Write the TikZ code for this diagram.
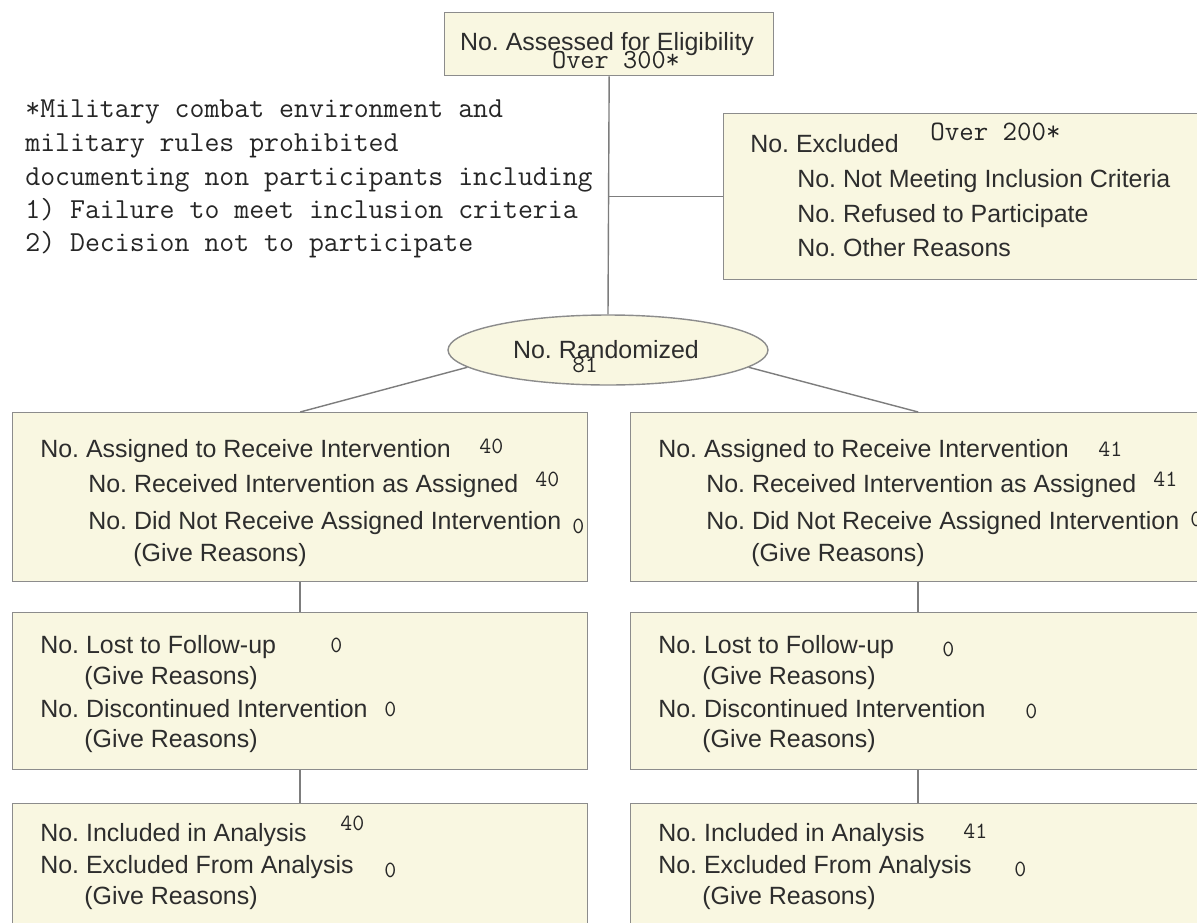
\documentclass[tikz,border=0pt]{standalone}
\usepackage{fontspec}
\setmainfont{Liberation Sans}
\setmonofont{Latin Modern Mono}
\usetikzlibrary{shapes.geometric}
\definecolor{cream}{RGB}{249,247,225}
\definecolor{edgegray}{RGB}{140,140,140}
\definecolor{wiregray}{RGB}{125,125,125}
\definecolor{ink}{RGB}{45,45,45}
\frenchspacing
\begin{document}
\begin{tikzpicture}[x=0.02cm,y=-0.02cm,
  box/.style={draw=edgegray, fill=cream, line width=0.8pt, rectangle, anchor=north west, inner sep=0pt},
  oval/.style={draw=edgegray, fill=cream, line width=0.8pt, ellipse, inner sep=0pt, minimum width=6.4cm, minimum height=1.4cm},
  lab/.style={anchor=base west, inner sep=0pt, text=ink, font=\fontsize{14.2}{17}\selectfont},
  mono/.style={anchor=base west, inner sep=0pt, text=black!85, font=\ttfamily\fontsize{16.5}{19}\selectfont},
  num/.style={anchor=base west, inner sep=0pt, text=black!85, font=\ttfamily\fontsize{13.2}{15}\selectfont},
  wire/.style={draw=wiregray, line width=0.8pt}]
\useasboundingbox (0,0) rectangle (1197,923);
\fill[white] (0,0) rectangle (1197,923);
\clip (0,0) rectangle (1197,923);

% boxes
\node[box, minimum width=6.58cm, minimum height=1.26cm] (top) at (444,12) {};
\node[box, minimum width=9.84cm, minimum height=3.32cm] (excl) at (723,113) {};
\node[oval] (rand) at (608,350) {};
\node[box, minimum width=11.5cm, minimum height=3.38cm] (L1) at (12,412) {};
\node[box, minimum width=11.5cm, minimum height=3.38cm] (R1) at (630,412) {};
\node[box, minimum width=11.5cm, minimum height=3.14cm] (L2) at (12,612) {};
\node[box, minimum width=11.5cm, minimum height=3.14cm] (R2) at (630,612) {};
\node[box, minimum width=11.5cm, minimum height=2.8cm] (L3) at (12,803) {};
\node[box, minimum width=11.5cm, minimum height=2.8cm] (R3) at (630,803) {};

% connectors
\draw[wire] (top.south) -- (rand.north);
\coordinate (br) at (top.south |- excl.west);
\draw[wire] (br) -- (excl.west);
\draw[wire] (rand.187) -- (L1.north);
\draw[wire] (rand.-7) -- (R1.north);
\draw[wire] (L1.south) -- (L2.north);
\draw[wire] (L2.south) -- (L3.north);
\draw[wire] (R1.south) -- (R2.north);
\draw[wire] (R2.south) -- (R3.north);

% top box
\node[lab, anchor=base] (t1) at (607,50) {No. Assessed for Eligibility};
\node[mono, anchor=base, font=\ttfamily\fontsize{15.7}{18}\selectfont] (t2) at (616,68) {Over 300*};

% note
\node[mono] (n1) at (25,117) {*Military combat environment and};
\node[mono] (n2) at (25,151) {military rules prohibited};
\node[mono] (n3) at (25,185) {documenting non participants including};
\node[mono] (n4) at (25,218) {1) Failure to meet inclusion criteria};
\node[mono] (n5) at (25,251) {2) Decision not to participate};

% excluded
\node[lab] (e0) at (750,152) {No. Excluded};
\node[mono, font=\ttfamily\fontsize{16}{18}\selectfont] (e0n) at (930,140) {Over 200*};
\node[lab] (e1) at (797,187) {No. Not Meeting Inclusion Criteria};
\node[lab] (e2) at (797,222) {No. Refused to Participate};
\node[lab] (e3) at (797,256) {No. Other Reasons};

% randomized
\node[lab, anchor=base] (r1) at (606,358) {No. Randomized};
\node[num, font=\ttfamily\fontsize{14}{16}\selectfont] (r2) at (572,372) {81};

% row 1 left
\node[lab] (a1) at (40,457) {No. Assigned to Receive Intervention};
\node[num] (a1n) at (479,453) {40};
\node[lab] (a2) at (88,492) {No. Received Intervention as Assigned};
\node[num] (a2n) at (535,486) {40};
\node[lab] (a3) at (88,529) {No. Did Not Receive Assigned Intervention};
\node[num] (a3n) at (572,533) {0};
\node[lab] (a4) at (133,561) {(Give Reasons)};

% row 1 right
\node[lab] (b1) at (658,457) {No. Assigned to Receive Intervention};
\node[num] (b1n) at (1098,456) {41};
\node[lab] (b2) at (706,492) {No. Received Intervention as Assigned};
\node[num] (b2n) at (1153,486) {41};
\node[lab] (b3) at (706,529) {No. Did Not Receive Assigned Intervention};
\node[num] (b3n) at (1190,526) {0};
\node[lab] (b4) at (751,561) {(Give Reasons)};

% row 2 left
\node[lab] (c1) at (40,653) {No. Lost to Follow-up};
\node[num] (c1n) at (330,652) {0};
\node[lab] (c2) at (84,684) {(Give Reasons)};
\node[lab] (c3) at (40,717) {No. Discontinued Intervention};
\node[num] (c3n) at (384,716) {0};
\node[lab] (c4) at (84,747) {(Give Reasons)};

% row 2 right
\node[lab] (d1) at (658,653) {No. Lost to Follow-up};
\node[num] (d1n) at (942,656) {0};
\node[lab] (d2) at (702,684) {(Give Reasons)};
\node[lab] (d3) at (658,717) {No. Discontinued Intervention};
\node[num] (d3n) at (1025,718) {0};
\node[lab] (d4) at (702,747) {(Give Reasons)};

% row 3 left
\node[lab] (f1) at (40,841) {No. Included in Analysis};
\node[num] (f1n) at (340,830) {40};
\node[lab] (f2) at (40,873) {No. Excluded From Analysis};
\node[num] (f2n) at (384,877) {0};
\node[lab] (f3) at (84,904) {(Give Reasons)};

% row 3 right
\node[lab] (g1) at (658,841) {No. Included in Analysis};
\node[num] (g1n) at (963,838) {41};
\node[lab] (g2) at (658,873) {No. Excluded From Analysis};
\node[num] (g2n) at (1014,876) {0};
\node[lab] (g3) at (702,904) {(Give Reasons)};
\end{tikzpicture}
\end{document}
